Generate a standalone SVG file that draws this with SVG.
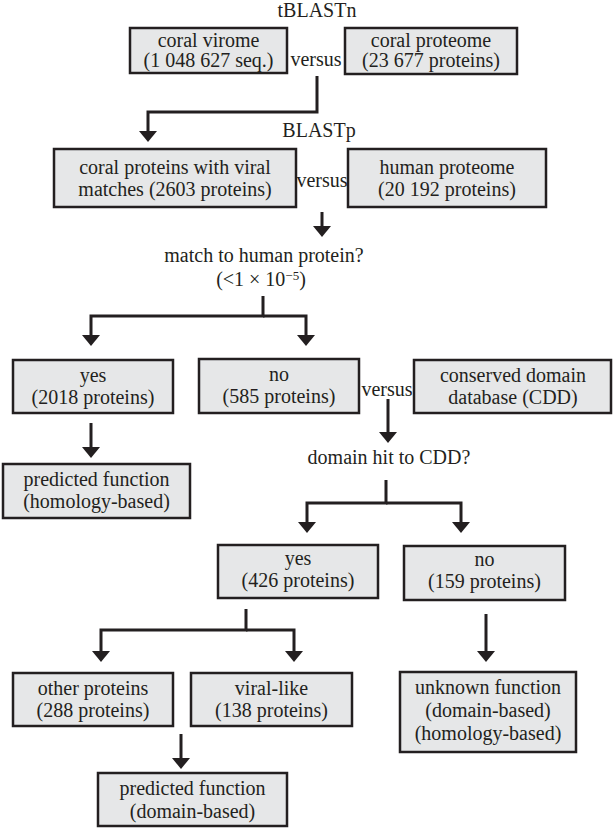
<svg xmlns="http://www.w3.org/2000/svg" width="613" height="828" viewBox="0 0 613 828" font-family="'Liberation Serif', 'Times New Roman', 'DejaVu Serif', serif">
<style>
.box{fill:#e6e7e8;stroke:#231f20;stroke-width:2.5}
text{font-family:'Liberation Serif','Times New Roman','DejaVu Serif',serif;font-size:20px;fill:#231f20;text-anchor:middle}
.c{fill:none;stroke:#231f20;stroke-width:3;stroke-linejoin:miter}
</style>
<defs>
<marker id="ah" markerUnits="userSpaceOnUse" markerWidth="12" markerHeight="18" refX="0" refY="9" orient="auto" overflow="visible">
<path d="M0,0 L11,9 L0,18 z" fill="#231f20"/>
</marker>
</defs>
<rect width="613" height="828" fill="#fff"/>
<g id="labels">
<text x="317" y="17">tBLASTn</text>
<text x="316" y="66">versus</text>
<text x="319" y="137">BLASTp</text>
<text x="322" y="187">versus</text>
<text x="264" y="262">match to human protein?</text>
<text x="261" y="286">(&lt;1 × 10<tspan dy="-6" font-size="13">−5</tspan><tspan dy="6">)</tspan></text>
<text x="387" y="396">versus</text>
<text x="389" y="464">domain hit to CDD?</text>
</g>
<g id="n1"><rect class="box" x="130" y="28" width="157" height="45"/><text x="208.5" y="47">coral virome</text><text x="208.5" y="67">(1 048 627 seq.)</text></g>
<g id="n2"><rect class="box" x="345" y="28" width="172" height="46"/><text x="431" y="47">coral proteome</text><text x="431" y="67">(23 677 proteins)</text></g>
<g id="n3"><rect class="box" x="54" y="149" width="242" height="58"/><text x="175" y="174">coral proteins with viral</text><text x="175" y="196">matches (2603 proteins)</text></g>
<g id="n4"><rect class="box" x="348" y="149" width="198" height="58"/><text x="447" y="174">human proteome</text><text x="447" y="196">(20 192 proteins)</text></g>
<g id="n5"><rect class="box" x="13" y="360" width="160" height="53"/><text x="93" y="382">yes</text><text x="93" y="404">(2018 proteins)</text></g>
<g id="n6"><rect class="box" x="199" y="359" width="160" height="54"/><text x="279" y="381">no</text><text x="279" y="403">(585 proteins)</text></g>
<g id="n7"><rect class="box" x="414" y="360" width="197" height="53"/><text x="513" y="382">conserved domain</text><text x="513" y="404">database (CDD)</text></g>
<g id="n8"><rect class="box" x="3" y="464" width="187" height="54"/><text x="96.5" y="486">predicted function</text><text x="96.5" y="508">(homology-based)</text></g>
<g id="n9"><rect class="box" x="218" y="545" width="160" height="53"/><text x="298" y="565">yes</text><text x="298" y="587">(426 proteins)</text></g>
<g id="n10"><rect class="box" x="404" y="546" width="161" height="54"/><text x="484.5" y="566">no</text><text x="484.5" y="588">(159 proteins)</text></g>
<g id="n11"><rect class="box" x="13" y="673" width="160" height="53"/><text x="93" y="695">other proteins</text><text x="93" y="717">(288 proteins)</text></g>
<g id="n12"><rect class="box" x="191" y="673" width="161" height="53"/><text x="271.5" y="695">viral-like</text><text x="271.5" y="717">(138 proteins)</text></g>
<g id="n13"><rect class="box" x="400" y="672" width="176" height="80"/><text x="488" y="694">unknown function</text><text x="488" y="717">(domain-based)</text><text x="488" y="740">(homology-based)</text></g>
<g id="n14"><rect class="box" x="98" y="773" width="189" height="53"/><text x="192.5" y="795">predicted function</text><text x="192.5" y="818">(domain-based)</text></g>
<g id="connectors">
<path class="c" d="M317,76 V112 H148 V131" marker-end="url(#ah)"/>
<path class="c" d="M322,212 V226" marker-end="url(#ah)"/>
<path class="c" d="M263,296 V316 H91 V335" marker-end="url(#ah)"/>
<path class="c" d="M263,316 H306 V335" marker-end="url(#ah)"/>
<path class="c" d="M91,423 V447" marker-end="url(#ah)"/>
<path class="c" d="M388,399 V432" marker-end="url(#ah)"/>
<path class="c" d="M386,480 V503 H307 V522" marker-end="url(#ah)"/>
<path class="c" d="M386,503 H461 V522" marker-end="url(#ah)"/>
<path class="c" d="M246,609 V630 H101 V651" marker-end="url(#ah)"/>
<path class="c" d="M246,630 H294 V651" marker-end="url(#ah)"/>
<path class="c" d="M486,614 V651" marker-end="url(#ah)"/>
<path class="c" d="M181,734 V758" marker-end="url(#ah)"/>
</g>
</svg>
